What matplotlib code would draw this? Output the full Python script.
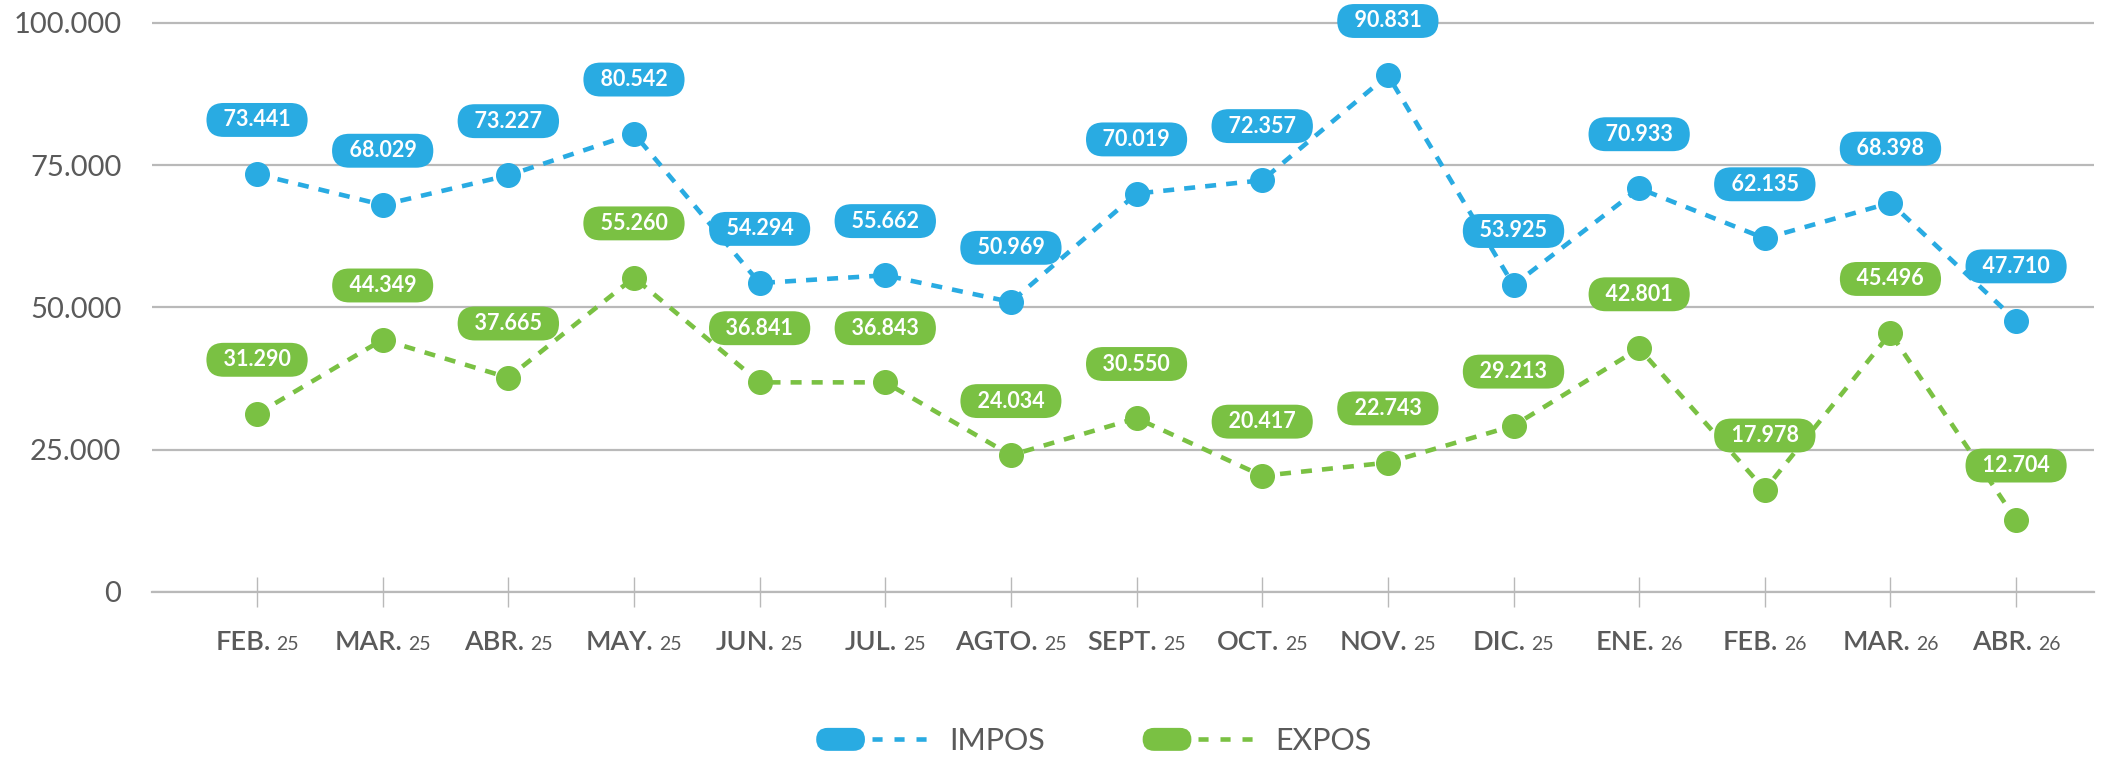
import matplotlib
matplotlib.use("Agg")
import matplotlib.pyplot as plt
from matplotlib.patches import FancyBboxPatch
from matplotlib.lines import Line2D
from matplotlib.legend_handler import HandlerBase
from matplotlib.offsetbox import TextArea, HPacker, AnnotationBbox

plt.rcParams['font.family'] = ['Lato', 'DejaVu Sans']

# ---- data ----
months = ["FEB.", "MAR.", "ABR.", "MAY.", "JUN.", "JUL.", "AGTO.", "SEPT.",
          "OCT.", "NOV.", "DIC.", "ENE.", "FEB.", "MAR.", "ABR."]
years = ["25", "25", "25", "25", "25", "25", "25", "25",
         "25", "25", "25", "26", "26", "26", "26"]
impos = [73441, 68029, 73227, 80542, 54294, 55662, 50969, 70019,
         72357, 90831, 53925, 70933, 62135, 68398, 47710]
expos = [31290, 44349, 37665, 55260, 36841, 36843, 24034, 30550,
         20417, 22743, 29213, 42801, 17978, 45496, 12704]
yticks = [0, 25000, 50000, 75000, 100000]
series_names = ["IMPOS", "EXPOS"]

BLUE = "#29abe2"
GREEN = "#7ac143"
GRAY_TXT = "#5a5a5a"
GRID = "#b9b9b9"


def fmt(v):
    return f"{v:,}".replace(",", ".")


W, H = 2107, 762
fig = plt.figure(figsize=(W / 100, H / 100), dpi=100)
ax = fig.add_axes([152 / W, 1 - 592 / H, (2094 - 152) / W, (592 - 17.3) / H])

x = list(range(len(months)))
ax.set_xlim(-0.836, 14.62)
ax.set_ylim(0, 101000)

dash = (2.4, 2.2)
l1, = ax.plot(x, impos, color=BLUE, lw=3.3, linestyle=(0, dash), zorder=3)
l2, = ax.plot(x, expos, color=GREEN, lw=3.3, linestyle=(0, dash), zorder=3)
ax.plot(x, impos, 'o', color=BLUE, ms=17, zorder=4)
ax.plot(x, expos, 'o', color=GREEN, ms=17, zorder=4)

for vals, col in ((impos, BLUE), (expos, GREEN)):
    for xi, v in zip(x, vals):
        ax.annotate("  " + fmt(v) + "  ", (xi, v), xytext=(0, 39),
                    textcoords="offset points", ha="center", va="center",
                    fontsize=15.5, fontweight="bold", color="white", zorder=6,
                    bbox=dict(boxstyle="round,pad=0.3,rounding_size=0.8",
                              fc=col, ec="none"))

# y axis
ax.set_yticks(yticks)
ax.set_yticklabels([fmt(v) for v in yticks], fontsize=21, color=GRAY_TXT)
ax.yaxis.grid(True, color=GRID, lw=1.6)
ax.tick_params(axis="y", length=0, pad=22)

# x axis
ax.set_xticks(x)
ax.set_xticklabels([""] * len(x))
ax.tick_params(axis="x", direction="inout", length=22, width=1, color=GRID)
for xi, m, yv in zip(x, months, years):
    pk = HPacker(children=[TextArea(m, textprops=dict(fontsize=19.5, color=GRAY_TXT, fontweight="semibold")),
                           TextArea(yv, textprops=dict(fontsize=14, color=GRAY_TXT))],
                 align="baseline", pad=0, sep=4)
    ab = AnnotationBbox(pk, (xi, 0), xybox=(0, -36), xycoords="data",
                        boxcoords="offset points", frameon=False,
                        box_alignment=(0.5, 0.5), annotation_clip=False)
    ax.add_artist(ab)

for s in ("top", "left", "right"):
    ax.spines[s].set_visible(False)
ax.spines["bottom"].set_color(GRID)
ax.spines["bottom"].set_linewidth(1.6)
ax.set_axisbelow(True)


class PillDash(HandlerBase):
    def __init__(self, color):
        super().__init__()
        self.color = color

    def create_artists(self, legend, orig_handle, xdescent, ydescent,
                       width, height, fontsize, trans):
        x0, y0 = -xdescent, -ydescent
        pw = width * 0.42
        pill = FancyBboxPatch((x0, y0), pw, height,
                              boxstyle=f"round,pad=0,rounding_size={height / 2}",
                              mutation_scale=1, fc=self.color, ec="none",
                              transform=trans)
        cy = y0 + height / 2
        ln = Line2D([x0 + pw + 5, x0 + width], [cy, cy], color=self.color,
                    lw=3.3, linestyle=(0, (2.2, 2.6)), transform=trans)
        return [pill, ln]


leg = fig.legend([l1, l2], series_names, loc="center",
                 bbox_to_anchor=(1094 / W, 1 - 741 / H), ncol=2, frameon=False,
                 fontsize=22, labelcolor=GRAY_TXT, handlelength=3.8,
                 handleheight=0.78, handletextpad=0.55, columnspacing=3.2,
                 handler_map={l1: PillDash(BLUE), l2: PillDash(GREEN)})

fig.savefig("out.png", dpi=100)
